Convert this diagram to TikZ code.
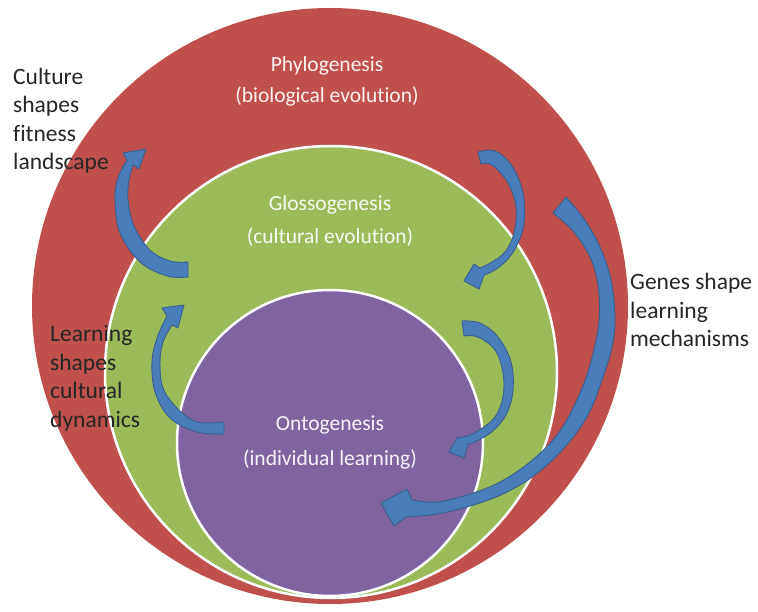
\documentclass[tikz,border=0pt]{standalone}
\usepackage{fontspec}
\setmainfont[Ligatures=NoCommon]{Carlito}
\definecolor{phylo}{HTML}{C0504D}
\definecolor{glosso}{HTML}{9BBB59}
\definecolor{onto}{HTML}{8064A2}
\definecolor{arrfill}{HTML}{4A7EBB}
\definecolor{arredge}{HTML}{3A5F8E}
\tikzset{
  ring/.style={circle, inner sep=0pt, draw=white, line width=2.5pt},
  inlabel/.style={font=\fontsize{21.5}{26}\selectfont, text=white, text opacity=0.92, anchor=base, inner sep=0pt},
  outlabel/.style={font=\fontsize{23.5}{28.5}\selectfont, text=black!85, align=left, anchor=base west, inner sep=0pt},
  blockarrow/.style={fill=arrfill, draw=arredge, line width=0.9pt, line join=round},
}
\begin{document}
\begin{tikzpicture}[x=1pt,y=-1pt]
\useasboundingbox (0,0) rectangle (758,612);
\fill[white] (0,0) rectangle (758,612);
% circles
\node[circle, inner sep=0pt, fill=phylo, minimum size=596pt] (phylo) at (330,306) {};
\node[ring, fill=glosso, minimum size=452pt] (glosso) at (331,372) {};
\node[ring, fill=onto, minimum size=306pt] (onto) at (330,443) {};
% circle labels
\node[inlabel] (p1) at (327,72) {Phylogenesis};
\node[inlabel] (p2) at (327,103) {(biological evolution)};
\node[inlabel] (g1) at (330,211) {Glossogenesis};
\node[inlabel] (g2) at (330,244) {(cultural evolution)};
\node[inlabel] (o1) at (330,430) {Ontogenesis};
\node[inlabel] (o2) at (330,465) {(individual learning)};
% side labels (anchor = baseline of last line)
\node[outlabel] (culture) at (13,170) {Culture\\shapes\\fitness\\landscape};
\node[outlabel] (learning) at (50,427) {Learning\\shapes\\cultural\\dynamics};
\node[outlabel] (genes) at (630,347) {Genes shape\\learning\\mechanisms};
% arrow: culture shapes fitness landscape
\filldraw[blockarrow] plot[smooth, tension=0.6] coordinates {(188,262) (170,261) (150,250) (134,226) (128,200) (129,180) (133,165)}
  -- (139,169) -- (146,149) -- (123,153)
  -- plot[smooth, tension=0.6] coordinates {(127,160) (118,178) (115,200) (120,233) (140,262) (167,276) (188,277)} -- cycle;
% arrow: learning shapes cultural dynamics
\filldraw[blockarrow] plot[smooth, tension=0.6] coordinates {(224,422) (197,422) (177,408) (163,388) (160,362) (163,342) (172,325)}
  -- (178,328) -- (184,305) -- (162,308)
  -- plot[smooth, tension=0.6] coordinates {(167,316) (157,338) (152,362) (155,392) (170,418) (197,432) (224,434)} -- cycle;
% arrow: phylogenesis -> glossogenesis
\filldraw[blockarrow] plot[smooth, tension=0.6] coordinates {(478,152) (495,151) (512,166) (523,193) (524,223) (518,243) (508,259) (495,270) (484,275)}
  -- (479,289) -- (464,281) -- (474,264)
  -- plot[smooth, tension=0.6] coordinates {(480,268) (492,262) (505,252) (514,233) (516,207) (508,183) (492,165) (481,164)} -- cycle;
% arrow: glossogenesis -> ontogenesis
\filldraw[blockarrow] plot[smooth, tension=0.6] coordinates {(462,321) (480,323) (498,337) (511,362) (513,390) (507,413) (494,430) (477,441) (468,444)}
  -- (464,458) -- (449,452) -- (457,438)
  -- plot[smooth, tension=0.6] coordinates {(468,436) (481,429) (495,417) (503,397) (503,373) (495,350) (478,337) (464,336)} -- cycle;
% arrow: genes shape learning mechanisms
\filldraw[blockarrow] plot[smooth, tension=0.6] coordinates {(566,197) (584,219) (600,247) (611,280) (615,317) (612,347) (602,380) (588,415) (565,447) (535,475) (503,494) (470,506) (437,514) (406,517)}
  -- (394,526) -- (381,503) -- (407,489)
  -- plot[smooth, tension=0.6] coordinates {(412,500) (437,502) (470,494) (500,482) (530,462) (557,435) (576,402) (590,365) (599,322) (598,285) (590,257) (573,231) (553,213)} -- cycle;
\end{tikzpicture}
\end{document}
